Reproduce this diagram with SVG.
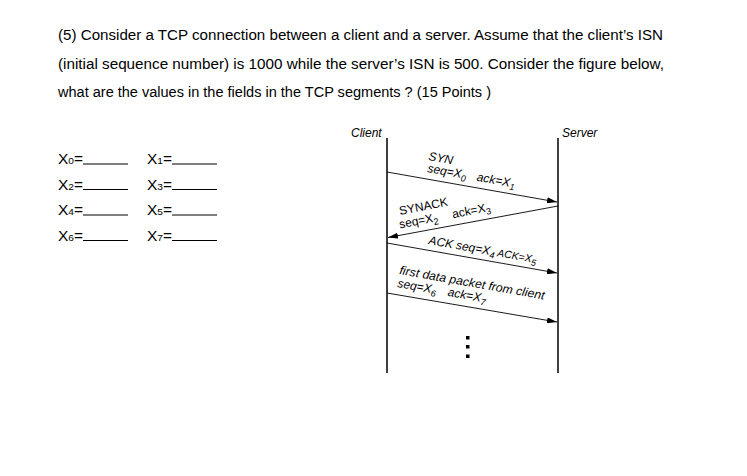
<svg xmlns="http://www.w3.org/2000/svg" width="747" height="476" viewBox="0 0 747 476">
<style>
.q{font-family:"Liberation Sans",Arial,sans-serif;font-size:15.5px;fill:#000}
.t{font-family:"Liberation Sans",Arial,sans-serif;font-size:14.5px;fill:#000}
.sb{font-size:9.5px}
.lab{font-family:"Liberation Sans",Arial,sans-serif;font-size:12px;font-style:italic;fill:#000}
.up{font-style:normal}
.sub{font-size:9px}
.ul{stroke:#000;stroke-width:1}
.life{stroke:#000;stroke-width:1.5}
.msg{stroke:#000;stroke-width:0.9;fill:none;marker-end:url(#ah)}
</style>
<defs>
<marker id="ah" viewBox="0 0 10 6" refX="10" refY="3" markerWidth="10" markerHeight="6" markerUnits="userSpaceOnUse" orient="auto">
<path d="M0,0 L10,3 L0,6 Z" fill="#000"/>
</marker>
</defs>
<rect width="747" height="476" fill="#fff"/>
<g id="question">
<text class="q" x="58" y="40" textLength="605" lengthAdjust="spacingAndGlyphs">(5) Consider a TCP connection between a client and a server. Assume that the client’s ISN</text>
<text class="q" x="58" y="68.5" textLength="606" lengthAdjust="spacingAndGlyphs">(initial sequence number) is 1000 while the server’s ISN is 500. Consider the figure below,</text>
<text class="q" x="58" y="97" textLength="433" lengthAdjust="spacingAndGlyphs">what are the values in the fields in the TCP segments ?  (15 Points )</text>
</g>
<g id="answers">
<text class="t" x="58" y="164" textLength="25" lengthAdjust="spacingAndGlyphs">X<tspan class="sb">0</tspan>=</text>
<line class="ul" x1="83" y1="164" x2="128" y2="164"/>
<text class="t" x="147" y="164" textLength="25" lengthAdjust="spacingAndGlyphs">X<tspan class="sb">1</tspan>=</text>
<line class="ul" x1="172" y1="164" x2="217" y2="164"/>
<text class="t" x="58" y="189.5" textLength="25" lengthAdjust="spacingAndGlyphs">X<tspan class="sb">2</tspan>=</text>
<line class="ul" x1="83" y1="189.5" x2="128" y2="189.5"/>
<text class="t" x="147" y="189.5" textLength="25" lengthAdjust="spacingAndGlyphs">X<tspan class="sb">3</tspan>=</text>
<line class="ul" x1="172" y1="189.5" x2="217" y2="189.5"/>
<text class="t" x="58" y="215" textLength="25" lengthAdjust="spacingAndGlyphs">X<tspan class="sb">4</tspan>=</text>
<line class="ul" x1="83" y1="215" x2="128" y2="215"/>
<text class="t" x="147" y="215" textLength="25" lengthAdjust="spacingAndGlyphs">X<tspan class="sb">5</tspan>=</text>
<line class="ul" x1="172" y1="215" x2="217" y2="215"/>
<text class="t" x="58" y="240.5" textLength="25" lengthAdjust="spacingAndGlyphs">X<tspan class="sb">6</tspan>=</text>
<line class="ul" x1="83" y1="240.5" x2="128" y2="240.5"/>
<text class="t" x="147" y="240.5" textLength="25" lengthAdjust="spacingAndGlyphs">X<tspan class="sb">7</tspan>=</text>
<line class="ul" x1="172" y1="240.5" x2="217" y2="240.5"/>
</g>
<g id="client">
<text class="lab" x="351" y="137">Client</text>
<line class="life" x1="387" y1="138" x2="387" y2="373"/>
</g>
<g id="server">
<text class="lab" x="562" y="137">Server</text>
<line class="life" x1="558" y1="138" x2="558" y2="373"/>
</g>
<g id="connectors">
<line class="msg" x1="387" y1="172" x2="557" y2="202"/>
<line class="msg" x1="558" y1="206" x2="388" y2="237.5"/>
<line class="msg" x1="387" y1="243" x2="557" y2="273"/>
<line class="msg" x1="387" y1="293" x2="557" y2="322"/>
</g>
<g id="labels">
<text class="lab" transform="translate(428,160) rotate(10)">SYN</text>
<text class="lab" transform="translate(427,172) rotate(10)">seq=X<tspan class="sub" dy="3">0</tspan><tspan dy="-3" x="50">ack=X</tspan><tspan class="sub" dy="3">1</tspan></text>
<text class="lab up" transform="translate(400,215) rotate(-11)">SYNACK</text>
<text class="lab up" transform="translate(400,228.5) rotate(-11)">seq=X<tspan class="sub" dy="3">2</tspan><tspan dy="-3" x="54">ack=X</tspan><tspan class="sub" dy="3">3</tspan></text>
<text class="lab" transform="translate(428,244) rotate(10)">ACK seq=X<tspan class="sub" dy="3">4</tspan><tspan dy="-3" font-size="10.5"> ACK=X</tspan><tspan class="sub" dy="3">5</tspan></text>
<text class="lab" transform="translate(399,274) rotate(10)" textLength="147" lengthAdjust="spacingAndGlyphs">first data packet from client</text>
<text class="lab" transform="translate(397,287) rotate(10)">seq=X<tspan class="sub" dy="3">6</tspan><tspan dy="-3" x="51">ack=X</tspan><tspan class="sub" dy="3">7</tspan></text>
</g>
<g id="ellipsis" fill="#000">
<rect x="466" y="336" width="3.5" height="3.5"/>
<rect x="466" y="345" width="3.5" height="3.5"/>
<rect x="466" y="354.5" width="3.5" height="3.5"/>
</g>
</svg>
